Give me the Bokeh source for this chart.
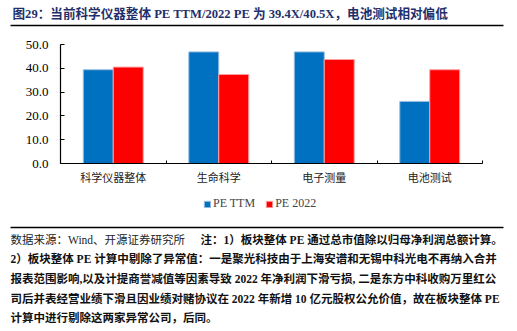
from bokeh.plotting import figure
from bokeh.models import (Range1d, FixedTicker, NumeralTickFormatter, Label,
                          BoxAnnotation, Legend, LegendItem, ColumnDataSource)
from bokeh.embed import file_html
from bokeh.resources import INLINE

categories = ["科学仪器整体", "生命科学", "电子测量", "电池测试"]
pe_ttm = [39.4, 46.9, 46.9, 26.1]
pe_2022 = [40.5, 37.4, 43.7, 39.4]
y_ticks = [0, 10, 20, 30, 40, 50]

title_text = "图29：当前科学仪器整体 PE TTM/2022 PE 为 39.4X/40.5X，电池测试相对偏低"
source_text = "数据来源：Wind、开源证券研究所"
note_lines = [
    "注：1）板块整体 PE 通过总市值除以归母净利润总额计算。",
    "2）板块整体 PE 计算中剔除了异常值：一是聚光科技由于上海安谱和无锡中科光电不再纳入合并",
    "报表范围影响,以及计提商誉减值等因素导致 2022 年净利润下滑亏损, 二是东方中科收购万里红公",
    "司后并表经营业绩下滑且因业绩对赌协议在 2022 年新增 10 亿元股权公允价值，故在板块整体 PE",
    "计算中进行剔除这两家异常公司，后同。",
]

W, H = 517, 331
# chart area inside the page (px from top-left)
CL, CR, CT, CB = 60, 482, 44, 163
YMAX = 50
n = len(categories)

kx = (CR - CL) / n          # px per category
ky = (CB - CT) / YMAX       # px per unit
x_range = Range1d(-CL / kx, n + (W - CR) / kx)
y_range = Range1d(-(H - CB) / ky, YMAX + CT / ky)

SERIF = "Liberation Serif, Noto Sans CJK SC"


def sx(xc):
    return xc


def sy(yc):
    return H - yc


centers = [i + 0.5 for i in range(n)]
off = 0.142
bw = 0.284

src = ColumnDataSource(dict(
    xb=[c - off for c in centers], xr=[c + off for c in centers],
    ttm=pe_ttm, p22=pe_2022))

p = figure(width=W, height=H, output_backend="svg", toolbar_location=None,
           x_range=x_range, y_range=y_range,
           min_border=0, min_border_left=0, min_border_right=0,
           min_border_top=0, min_border_bottom=0)
p.outline_line_color = None
p.xgrid.visible = False
p.ygrid.visible = False
p.background_fill_color = "white"
p.border_fill_color = "white"

r1 = p.vbar(x="xb", top="ttm", width=bw, source=src, fill_color="#0070C0",
            line_color="#9dbfe3", line_width=1)
r2 = p.vbar(x="xr", top="p22", width=bw, source=src, fill_color="#FF0000",
            line_color="#ff9f9f", line_width=1)

xa = p.xaxis[0]
xa.fixed_location = 0
xa.bounds = (0, n)
xa.ticker = FixedTicker(ticks=centers, minor_ticks=list(range(n + 1)))
xa.major_label_overrides = {c: cat for c, cat in zip(centers, categories)}
xa.major_tick_in = 0
xa.major_tick_out = 0
xa.minor_tick_in = 3
xa.minor_tick_out = 0
xa.major_label_standoff = 5
xa.major_label_text_font = "Noto Sans CJK SC"
xa.major_label_text_font_size = "11px"
xa.major_label_text_color = "#222222"
xa.axis_line_color = "black"
xa.axis_line_width = 1.2

ya = p.yaxis[0]
ya.fixed_location = 0
ya.bounds = (0, YMAX)
ya.ticker = FixedTicker(ticks=y_ticks)
ya.formatter = NumeralTickFormatter(format="0.0")
ya.major_tick_in = 4
ya.major_tick_out = 0
ya.minor_tick_line_color = None
ya.major_label_standoff = 12
ya.major_label_text_font = "Liberation Serif"
ya.major_label_text_font_size = "13px"
ya.major_label_text_color = "black"
ya.axis_line_color = "black"
ya.axis_line_width = 1.2

legend = Legend(items=[LegendItem(label="PE TTM", renderers=[r1]),
                       LegendItem(label="PE 2022", renderers=[r2])],
                orientation="horizontal", location=(sx(203), sy(211)),
                glyph_width=8, glyph_height=8, label_standoff=2, spacing=10,
                padding=0, margin=0, border_line_color=None,
                background_fill_alpha=0,
                label_text_font="Liberation Serif", label_text_font_size="12px",
                label_height=10)
p.add_layout(legend)

# title and rules
p.add_layout(Label(x=sx(12), y=sy(13), x_units="screen", y_units="screen",
                   text=title_text, text_font=SERIF, text_font_size="12.6px",
                   text_font_style="bold", text_color="#1F2F6B",
                   text_baseline="middle"))
for yc in (25, 227):
    p.add_layout(BoxAnnotation(left=sx(10), right=sx(503), top=sy(yc - 0.7),
                               bottom=sy(yc + 0.7), left_units="screen",
                               right_units="screen", top_units="screen",
                               bottom_units="screen", fill_color="black",
                               fill_alpha=1, line_color=None))

# notes
p.add_layout(Label(x=sx(10), y=sy(239), x_units="screen", y_units="screen",
                   text=source_text, text_font=SERIF, text_font_size="11.5px",
                   text_color="#222222", text_baseline="middle"))
note_y = [239, 258, 278, 298, 317]
note_x = [200, 10, 10, 10, 10]
for t, xc, yc in zip(note_lines, note_x, note_y):
    p.add_layout(Label(x=sx(xc), y=sy(yc), x_units="screen", y_units="screen",
                       text=t, text_font=SERIF, text_font_size="11.5px",
                       text_font_style="bold", text_color="#111111",
                       text_baseline="middle"))

open("out.html", "w").write(file_html(p, INLINE))
